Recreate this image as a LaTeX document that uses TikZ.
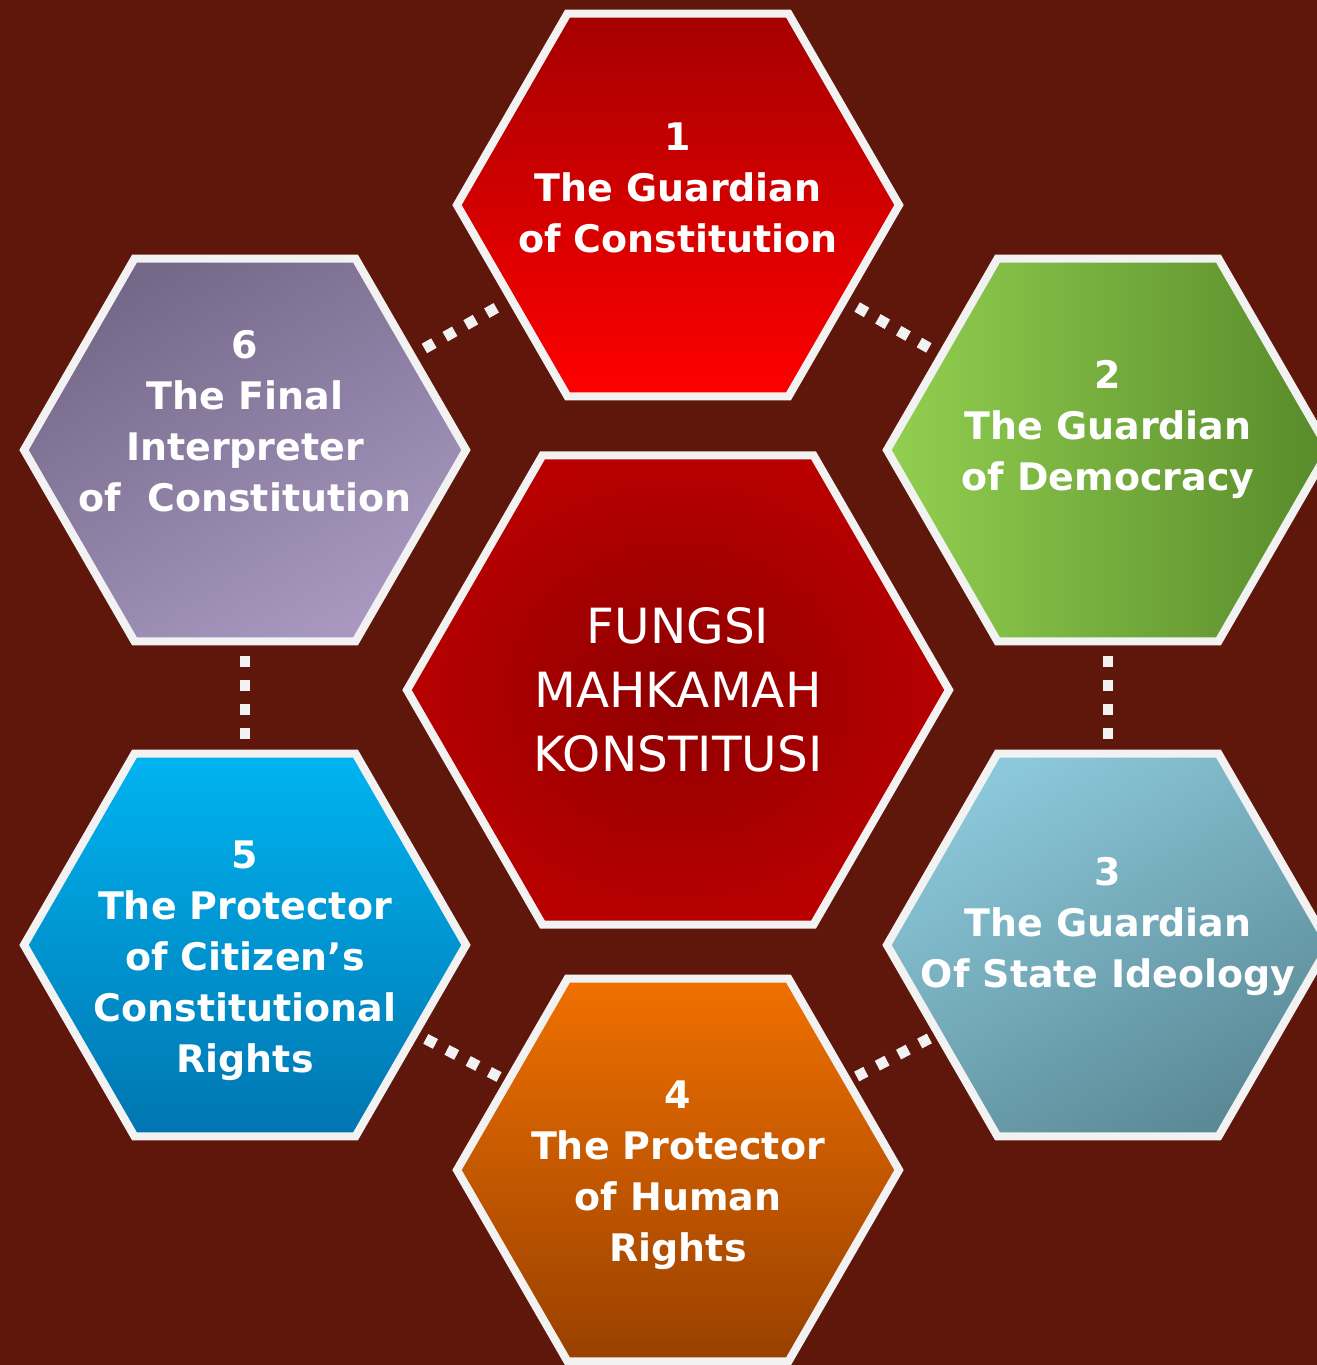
\documentclass[tikz,border=0pt]{standalone}
\usepackage{fontspec}
\setmainfont{DejaVu Sans}
\usetikzlibrary{shapes.geometric}

\definecolor{bgred}{HTML}{5F170C}
\definecolor{rimgray}{HTML}{F2F2F2}

\begin{document}
\begin{tikzpicture}[hexa/.style = {regular polygon, regular polygon sides=6, minimum size=4.42cm,
                                   inner sep=0pt, draw=rimgray, line width=2.3pt},
                    link/.style = {draw=rimgray, line width=3.1pt, dash pattern=on 3.1pt off 3.7pt,
                                   shorten >=0.107cm, shorten <=0.107cm},
                    hextext/.style = {text=white, align=center, inner sep=0pt, anchor=north,
                                      font=\fontsize{10.8pt}{14.5pt}\selectfont\bfseries}]
                \clip (0,0) rectangle (13.17,13.65);
                \fill[bgred] (0,0) rectangle (13.17,13.65);

                % Center

                \node[hexa, minimum size=5.42cm, inner color={rgb,255:red,142;green,0;blue,0},
                      outer color={rgb,255:red,184;green,0;blue,0}] (core) at (6.78,6.75) {};
                \node[hextext, font=\fontsize{13.8pt}{18.2pt}\selectfont] (coretext) at (6.78,7.58)
                      {FUNGSI\\MAHKAMAH\\KONSTITUSI};

                % Outer ring

                \node[hexa, top color={rgb,255:red,165;green,0;blue,0},
                      bottom color={rgb,255:red,255;green,0;blue,0}] (h1) at (6.78,11.60) {};
                \node[hextext] (t1) at (6.78,12.43) {1\\The Guardian\\of Constitution};

                \node[hexa, left color={rgb,255:red,146;green,208;blue,80},
                      right color={rgb,255:red,88;green,138;blue,42}] (h2) at (11.08,9.15) {};
                \node[hextext] (t2) at (11.08,10.05) {2\\The Guardian\\of Democracy};

                \node[hexa, top color={rgb,255:red,139;green,200;blue,218},
                      bottom color={rgb,255:red,91;green,138;blue,151}, shading angle=30] (h3) at (11.08,4.20) {};
                \node[hextext] (t3) at (11.08,5.08) {3\\The Guardian\\Of State Ideology};

                \node[hexa, top color={rgb,255:red,240;green,112;blue,0},
                      bottom color={rgb,255:red,152;green,64;blue,0}] (h4) at (6.78,1.95) {};
                \node[hextext] (t4) at (6.78,2.85) {4\\The Protector\\of Human\\Rights};

                \node[hexa, top color={rgb,255:red,0;green,180;blue,240},
                      bottom color={rgb,255:red,0;green,117;blue,176}] (h5) at (2.45,4.20) {};
                \node[hextext] (t5) at (2.45,5.25) {5\\The Protector\\of Citizen’s\\Constitutional\\Rights};

                \node[hexa, top color={rgb,255:red,116;green,104;blue,136},
                      bottom color={rgb,255:red,168;green,152;blue,192}, shading angle=30] (h6) at (2.45,9.15) {};
                \node[hextext] (t6) at (2.45,10.35) {6\\The Final\\Interpreter\\of~ Constitution};

                % Dotted links

                \draw[link] (h6) -- (h1);
                \draw[link] (h1) -- (h2);
                \draw[link] (h2) -- (h3);
                \draw[link, shorten >=0.06cm, shorten <=0.06cm] (h3) -- (h4);
                \draw[link, shorten >=0.06cm, shorten <=0.06cm] (h4) -- (h5);
                \draw[link] (h5) -- (h6);
            \end{tikzpicture}
\end{document}
